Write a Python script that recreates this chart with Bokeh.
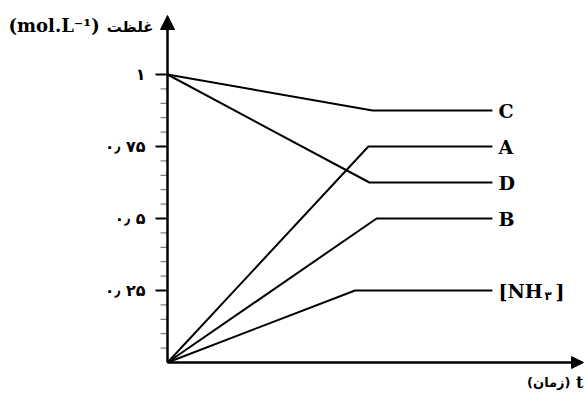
import math
from bokeh.plotting import figure
from bokeh.models import Arrow, NormalHead, Range1d, ColumnDataSource
from bokeh.core.properties import value
from bokeh.embed import file_html
from bokeh.resources import INLINE

# ---- data ----
series = ["C", "A", "D", "B", "NH3"]
start_values = [1.0, 0.0, 1.0, 0.0, 0.0]
final_values = [0.875, 0.75, 0.625, 0.5, 0.25]
t_reach = [2.0, 1.96, 1.97, 2.04, 1.83]
t_end = 3.17
label_texts = ["C", "A", "D", "B", "[NH"]

y_ticks = [0.25, 0.5, 0.75, 1.0]
y_tick_labels = ["۰٫ ۲۵", "۰٫ ۵", "۰٫ ۷۵", "۱"]
y_minor = [0.05, 0.1, 0.15, 0.2, 0.3, 0.35, 0.4, 0.45, 0.55, 0.6, 0.65, 0.7,
           0.8, 0.85, 0.9, 0.95]
y_title = "(mol.L⁻¹)"
y_title_fa = "غلظت"
x_title_fa = "(زمان)"
x_title = "t"

# ---- scales (pixel layout) ----
W, H = 585, 395
X0PX, Y0PX = 167, 362          # position of origin on canvas
XSC, YSC = 102.5, 288.0        # px per unit
p = figure(width=W, height=H,
           x_range=Range1d(-X0PX / XSC, (W - X0PX) / XSC),
           y_range=Range1d(-(H - Y0PX) / YSC, Y0PX / YSC),
           output_backend="svg", toolbar_location=None,
           x_axis_location=None, y_axis_location=None,
           min_border=0)
p.outline_line_color = None
p.xgrid.visible = False
p.ygrid.visible = False
p.background_fill_color = "white"
p.border_fill_color = "white"

Y_TIP = (Y0PX - 15) / YSC
X_TIP = (583 - X0PX) / XSC

# axes arrows
p.add_layout(Arrow(end=NormalHead(size=14, fill_color="black", line_color="black"),
                   x_start=0, y_start=0, x_end=0, y_end=Y_TIP,
                   line_width=2.5, line_color="black"))
p.add_layout(Arrow(end=NormalHead(size=12, fill_color="black", line_color="black"),
                   x_start=0, y_start=0, x_end=X_TIP, y_end=0,
                   line_width=2.5, line_color="black"))

# y ticks
p.ray(x=[0] * len(y_minor), y=y_minor, length=7, length_units="screen", angle=math.pi,
      line_color="#808080", line_width=1.3)
p.ray(x=[0] * len(y_ticks), y=y_ticks, length=12, length_units="screen", angle=math.pi,
      line_color="black", line_width=2)
p.text(x=[0] * len(y_ticks), y=y_ticks, text=y_tick_labels, x_offset=-22,
       text_font=value("DejaVu Sans"), text_font_style="bold", text_font_size="16px",
       text_align="right", text_baseline="middle", text_color="black")

# series
xs = [[0, tr, t_end] for tr in t_reach]
ys = [[s, f, f] for s, f in zip(start_values, final_values)]
p.multi_line(xs=xs, ys=ys, line_color="black", line_width=2, line_join="round")

lab_src = ColumnDataSource(dict(x=[t_end] * len(series), y=final_values, text=label_texts))
p.text(x="x", y="y", text="text", source=lab_src, x_offset=6,
       text_font=value("DejaVu Serif"), text_font_style="bold", text_font_size="19px",
       text_baseline="middle", text_color="black")
nh3_y = final_values[-1]
p.text(x=[t_end], y=[nh3_y], text=["۳"], x_offset=[52], y_offset=[5],
       text_font=value("DejaVu Sans"), text_font_style="bold", text_font_size="12px",
       text_baseline="middle", text_color="black")
p.text(x=[t_end], y=[nh3_y], text=["]"], x_offset=[63],
       text_font=value("DejaVu Serif"), text_font_style="bold", text_font_size="19px",
       text_baseline="middle", text_color="black")

# axis titles
p.text(x=[0], y=[Y_TIP], text=[y_title], x_offset=-159, y_offset=10,
       text_font=value("DejaVu Serif"), text_font_style="bold", text_font_size="18px",
       text_baseline="middle", text_align="left", text_color="black")
p.text(x=[0], y=[Y_TIP], text=[y_title_fa], x_offset=-14, y_offset=11,
       text_font=value("DejaVu Sans"), text_font_style="bold", text_font_size="15px",
       text_baseline="middle", text_align="right", text_color="black")
p.text(x=[X_TIP], y=[0], text=[x_title], x_offset=0, y_offset=20,
       text_font=value("DejaVu Serif"), text_font_style="bold", text_font_size="16px",
       text_baseline="middle", text_align="right", text_color="black")
p.text(x=[X_TIP], y=[0], text=[x_title_fa], x_offset=-13, y_offset=20,
       text_font=value("DejaVu Sans"), text_font_style="bold", text_font_size="13px",
       text_baseline="middle", text_align="right", text_color="black")

open("out.html", "w").write(file_html(p, INLINE))
